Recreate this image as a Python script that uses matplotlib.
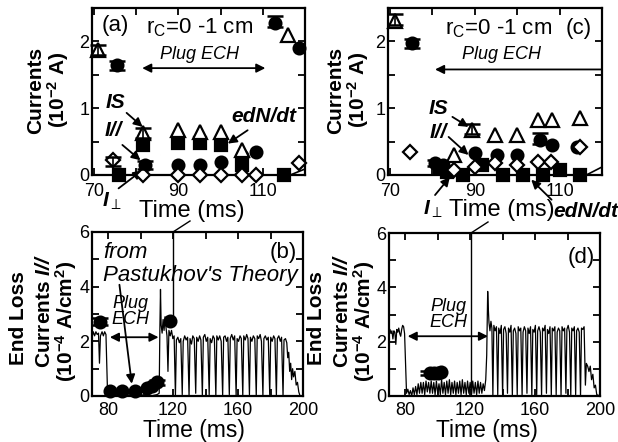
import matplotlib
matplotlib.use("Agg")
import matplotlib.pyplot as plt
from matplotlib.lines import Line2D
from matplotlib.ticker import FixedLocator, MultipleLocator

plt.rcParams["font.family"] = ["Liberation Sans", "DejaVu Sans"]
plt.rcParams["mathtext.fontset"] = "custom"
plt.rcParams["mathtext.rm"] = "Liberation Sans"
plt.rcParams["mathtext.it"] = "Liberation Sans:italic"
plt.rcParams["mathtext.bf"] = "Liberation Sans:bold"
plt.rcParams["mathtext.bfit"] = "Liberation Sans:italic:bold"

# ---- panel (a): currents, r_C = 0-1 cm ----
a_tri_t = [71, 81.5, 90, 95, 100, 105, 116]
a_tri_v = [1.87, 0.63, 0.67, 0.65, 0.65, 0.38, 2.09]
a_circ_t = [75.5, 82, 90, 95, 100, 105, 108.3, 113, 118.6]
a_circ_v = [1.64, 0.15, 0.15, 0.15, 0.2, 0.28, 0.35, 2.27, 1.9]
a_sq_t = [76, 81.5, 90, 95, 100, 105, 115]
a_sq_v = [0.0, 0.45, 0.48, 0.48, 0.45, 0.15, 0.0]
a_dia_t = [74.5, 81.5, 90, 95, 100, 105, 108.3, 118.5]
a_dia_v = [0.22, 0.0, 0.0, 0.0, 0.0, 0.0, 0.0, 0.18]
a_err_t = [71, 75.5, 81.5, 82, 74.5, 113]
a_err_v = [1.87, 1.64, 0.63, 0.15, 0.2, 2.3]
a_err = [0.07, 0.07, 0.07, 0.06, 0.07, 0.08]

# ---- panel (c) ----
c_tri_t = [71.2, 85.1, 89.4, 94.8, 99.9, 104.9, 108.1, 114.7]
c_tri_v = [2.31, 0.3, 0.67, 0.6, 0.6, 0.82, 0.82, 0.85]
c_circ_t = [75.2, 80.6, 82.5, 90.1, 95.3, 99.9, 105.4, 108.1, 114]
c_circ_v = [1.97, 0.18, 0.15, 0.33, 0.3, 0.3, 0.52, 0.45, 0.42]
c_sq_t = [81.7, 83.5, 87.1, 91.8, 96.7, 101.4, 106, 110, 114.7]
c_sq_v = [0.1, 0.05, 0.0, 0.15, 0.0, 0.0, 0.0, 0.07, 0.0]
c_dia_t = [74.7, 85, 90.1, 94.8, 99.9, 104.9, 108, 114.7]
c_dia_v = [0.34, 0.07, 0.12, 0.18, 0.15, 0.19, 0.19, 0.42]
c_err_t = [71.2, 75.2, 89.4, 105.4, 80.6]
c_err_v = [2.33, 1.97, 0.69, 0.55, 0.18]
c_err = [0.08, 0.07, 0.08, 0.08, 0.05]

# ---- panel (b): end loss current trace ----
b_time = [70.0, 70.8, 71.6, 72.4, 73.2, 74.0, 74.6, 75.2, 76.2, 77.0, 77.8, 78.6, 79.2, 79.6,
          82, 86, 90, 94, 98, 102, 106, 110, 111.4, 111.8, 112.2, 112.6, 113.2, 113.8,
          114.4, 115.0, 115.6, 116.2, 116.8, 117.4, 118.2, 119.0, 119.8, 120.6,
          121.4, 122.0, 122.9, 123.8, 124.7, 125.6, 126.2, 127.1, 128.0, 128.9,
          129.8, 130.4, 131.3, 132.1, 133.0, 133.9, 134.5, 135.4, 136.3, 137.1,
          138.0, 138.6, 139.5, 140.4, 141.3, 142.2, 142.8, 143.7, 144.6, 145.4,
          146.3, 146.9, 147.8, 148.7, 149.6, 150.5, 151.1, 152.0, 152.9, 153.7,
          154.6, 155.2, 156.1, 157.0, 157.9, 158.8, 159.4, 160.3, 161.2, 162.0,
          162.9, 163.5, 164.4, 165.3, 166.1, 167.0, 167.6, 168.5, 169.4, 170.3,
          171.2, 171.8, 172.7, 173.6, 174.4, 175.3, 175.9, 176.8, 177.7, 178.6,
          179.5, 180.1, 181.0, 181.9, 182.7, 183.6, 184.2, 185.1, 186.0, 186.8,
          187.7, 188.3, 189.2, 190.0, 190.6, 191.2, 191.8, 192.4, 193.0, 193.6,
          194.2, 195.0, 195.8, 196.6, 197.4, 198.2, 200.0]
b_curr = [2.15, 2.35, 2.2, 2.35, 2.25, 2.3, 1.2, 2.2, 2.35, 2.2, 2.35, 2.25, 1.0, 0.05,
          0.0, 0.05, 0.0, 0.05, 0.0, 0.05, 0.0, 0.05, 0.1, 2.4, 3.9, 2.6, 2.3, 2.8,
          2.4, 2.9, 2.5, 2.2, 0.9, 2.4, 2.2, 2.4, 2.1, 2.2,
          0.0, 2.05, 2.15, 1.95, 2.1, 0.05, 2.0, 2.2, 2.05, 2.15,
          0.0, 2.1, 1.9, 2.2, 2.1, 0.1, 2.15, 2.0, 2.2, 2.05,
          0.0, 2.15, 2.25, 2.0, 2.15, 0.05, 2.1, 1.95, 2.2, 2.1,
          0.0, 2.2, 2.05, 2.2, 2.0, 0.0, 2.15, 2.2, 2.0, 2.15,
          0.05, 2.1, 2.25, 2.05, 2.2, 0.0, 2.1, 2.0, 2.2, 2.1,
          0.0, 2.2, 2.05, 2.25, 2.1, 0.05, 2.15, 2.0, 2.2, 2.1,
          0.0, 2.2, 2.1, 2.25, 2.0, 0.0, 2.1, 2.2, 2.05, 2.15,
          0.05, 2.15, 2.0, 2.2, 2.1, 0.0, 2.1, 2.2, 2.0, 2.15,
          0.0, 2.05, 2.1, 1.95, 1.4, 1.6, 0.9, 1.2, 0.6, 1.0,
          0.7, 0.9, 0.4, 0.5, 0.15, 0.0, 0.0]
b_circ_t = [75, 81.1, 88.3, 96.5, 103.7, 106.8, 110, 118.1]
b_circ_v = [2.7, 0.18, 0.18, 0.2, 0.3, 0.35, 0.5, 2.74]

# ---- panel (d) ----
d_time = [70.0, 70.6, 71.2, 71.8, 72.4, 73.0, 73.6, 74.2, 74.8, 75.4, 76.0, 76.6, 77.2, 77.8,
          78.4, 79.0, 79.6, 80.2, 80.8, 81.6, 82.4, 83.2, 84.0, 84.8, 85.6, 86.4, 87.2,
          88.0, 88.8, 89.6, 90.4, 91.2, 92.0, 92.8, 93.6, 94.4, 95.2, 96.0, 96.8, 97.6,
          98.4, 99.2, 100.0, 100.8, 101.6, 102.4, 103.2, 104.0, 104.8, 105.6, 106.4,
          107.2, 108.0, 108.8, 109.6, 110.4, 111.2, 112.0, 112.8, 113.6, 114.4, 115.2,
          116.0, 116.8, 117.6, 118.4, 119.2, 120.0, 120.8, 121.6, 122.4, 123.2, 124.0,
          124.8, 125.6, 126.4, 127.2, 128.0, 128.8, 129.6, 130.2, 130.8, 131.2, 131.6,
          132.2, 132.8, 133.4, 134.0, 134.6, 135.4, 136.2, 137.0, 137.6, 138.4, 139.2,
          140.0, 140.6, 141.4, 142.2, 143.0, 143.6, 144.4, 145.2, 146.0, 146.6, 147.4,
          148.2, 149.0, 149.6, 150.4, 151.2, 152.0, 152.6, 153.4, 154.2, 155.0, 155.6,
          156.4, 157.2, 158.0, 158.6, 159.4, 160.2, 161.0, 161.6, 162.4, 163.2, 164.0,
          164.6, 165.4, 166.2, 167.0, 167.6, 168.4, 169.2, 170.0, 170.6, 171.4, 172.2,
          173.0, 173.6, 174.4, 175.2, 176.0, 176.6, 177.4, 178.2, 179.0, 179.6, 180.4,
          181.2, 182.0, 182.6, 183.4, 184.2, 185.0, 185.6, 186.4, 187.2, 188.0, 188.6,
          189.4, 190.2, 191.0, 191.6, 192.4, 193.2, 194.0, 194.8, 195.6, 196.4, 197.2,
          198.0, 200.0]
d_curr = [2.3, 2.45, 2.3, 2.4, 2.1, 2.4, 2.35, 1.9, 2.45, 2.35, 2.5, 2.3, 2.2, 2.45,
          2.6, 2.55, 2.3, 1.2, 0.1, 0.25, 0.05, 0.2, 0.0, 0.3, 0.05, 0.35, 0.05,
          0.45, 0.1, 0.5, 0.1, 0.5, 0.05, 0.55, 0.15, 0.5, 0.1, 0.55, 0.1, 0.5,
          0.05, 0.55, 0.1, 0.45, 0.05, 0.6, 0.1, 0.5, 0.05, 0.55, 0.1,
          0.6, 0.05, 0.5, 0.1, 0.55, 0.05, 0.5, 0.1, 0.55, 0.05, 0.6,
          0.1, 0.5, 0.05, 0.55, 0.1, 0.5, 0.05, 0.55, 0.1, 0.5, 0.05,
          0.55, 0.1, 0.5, 0.1, 0.45, 0.2, 0.6, 1.5, 3.85, 3.2, 2.7,
          2.4, 2.75, 2.5, 0.0, 2.6, 2.4, 2.55, 0.05, 2.5, 2.3, 2.6,
          0.0, 2.45, 2.55, 2.3, 0.1, 2.5, 2.35, 2.6, 0.0, 2.4, 2.5,
          2.3, 0.05, 2.55, 2.4, 2.5, 0.0, 2.35, 2.55, 2.4, 0.1, 2.5,
          2.3, 2.55, 0.0, 2.45, 2.35, 2.6, 0.05, 2.4, 2.55, 2.35, 0.0,
          2.5, 2.4, 2.6, 0.1, 2.45, 2.3, 2.55, 0.0, 2.5, 2.4, 2.55,
          0.05, 2.35, 2.5, 2.4, 0.0, 2.55, 2.4, 2.5, 0.1, 2.45, 2.6,
          2.35, 0.0, 2.5, 2.4, 2.55, 0.05, 2.4, 2.5, 2.35, 0.0, 2.5,
          2.45, 2.55, 0.4, 1.2, 1.1, 0.9, 1.1, 0.6, 0.8, 0.3, 0.4,
          0.05, 0.0]
d_circ_t = [95, 97.5, 100, 102]
d_circ_v = [0.85, 0.85, 0.86, 0.88]

# tick positions
top_xmajor = [70, 90, 110]
top_xminor = [80, 100]
bot_xmajor = [80, 120, 160, 200]
bot_xminor = [100, 140, 180]

W, H = 618, 442
fig = plt.figure(figsize=(W / 100, H / 100), dpi=100)


def px_axes(left, top, right, bottom):
    return fig.add_axes([left / W, 1 - bottom / H, (right - left) / W, (bottom - top) / H])


def style_axes(ax, xlim, ylim, xmaj, xmin, ymaj, ymin, xpad=6):
    ax.set_xlim(*xlim)
    ax.set_ylim(*ylim)
    ax.xaxis.set_major_locator(FixedLocator(xmaj))
    ax.xaxis.set_minor_locator(FixedLocator(xmin))
    ax.yaxis.set_major_locator(MultipleLocator(ymaj))
    ax.yaxis.set_minor_locator(MultipleLocator(ymin))
    ax.tick_params(which="both", direction="in", top=True, right=True,
                   length=5, width=1.3, labelsize=13)
    ax.tick_params(axis="x", pad=xpad)
    ax.tick_params(axis="y", pad=2)
    for s in ax.spines.values():
        s.set_linewidth(1.6)


def markers(ax, t, v, kind):
    styles = {
        "tri": dict(marker="^", mfc="white", ms=10, zorder=5),
        "circ": dict(marker="o", mfc="black", ms=8.5, zorder=4),
        "sq": dict(marker="s", mfc="black", ms=8, zorder=3),
        "dia": dict(marker="D", mfc="white", ms=7, zorder=6),
    }
    ax.plot(t, v, ls="none", mec="black", mew=1.6, clip_on=False, **styles[kind])


def errbars(ax, t, v, e):
    ax.errorbar(t, v, yerr=e, fmt="none", ecolor="black", elinewidth=1.2,
                capsize=6, capthick=1.8, clip_on=False, zorder=7)


def arrow(ax, tail, head, style="-|>"):
    ax.annotate("", xy=head, xytext=tail, annotation_clip=False,
                arrowprops=dict(arrowstyle=style, color="black", lw=1.3,
                                mutation_scale=13, shrinkA=0, shrinkB=0))


bi = dict(fontsize=15, ha="center", va="center", clip_on=False)

# ---------- (a) ----------
ax_a = px_axes(92, 8, 305, 175)
style_axes(ax_a, (69.5, 120), (0, 2.5), top_xmajor, top_xminor, 1, 0.5)
markers(ax_a, a_sq_t, a_sq_v, "sq")
markers(ax_a, a_circ_t, a_circ_v, "circ")
markers(ax_a, a_tri_t, a_tri_v, "tri")
markers(ax_a, a_dia_t, a_dia_v, "dia")
errbars(ax_a, a_err_t, a_err_v, a_err)
ax_a.plot([116.5, 120], [0, 0.09], color="black", lw=1.2, clip_on=False)
ax_a.text(75, 2.24, "(a)", fontsize=16, ha="center", va="center")
ax_a.text(95, 2.2, r"r$_\mathrm{C}$=0 -1 cm", fontsize=16, ha="center", va="center")
ax_a.text(95, 1.8, "Plug ECH", fontsize=13, style="italic", ha="center", va="center")
arrow(ax_a, (81.4, 1.6), (110.6, 1.6), "<|-|>")
ax_a.text(75, 1.09, "IS", fontweight="bold", style="italic", **bi)
arrow(ax_a, (77.7, 0.93), (81.5, 0.72))
ax_a.text(74.5, 0.67, "I//", fontweight="bold", style="italic", **bi)
arrow(ax_a, (76.7, 0.45), (81, 0.22))
ax_a.text(74.3, -0.4, r"$\mathbfit{I}_{\perp}$", **bi)
arrow(ax_a, (75.8, -0.2), (81.4, 0.07))
ax_a.text(110.2, 0.87, "edN/dt", fontweight="bold", style="italic", **bi)
arrow(ax_a, (106.4, 0.67), (101.7, 0.47))

# ---------- (c) ----------
ax_c = px_axes(388, 8, 602, 175)
style_axes(ax_c, (69.5, 120), (0, 2.5), top_xmajor, top_xminor, 1, 0.5)
markers(ax_c, c_sq_t, c_sq_v, "sq")
markers(ax_c, c_circ_t, c_circ_v, "circ")
markers(ax_c, c_tri_t, c_tri_v, "tri")
markers(ax_c, c_dia_t, c_dia_v, "dia")
errbars(ax_c, c_err_t, c_err_v, c_err)
ax_c.plot([116.3, 120], [0, 0.12], color="black", lw=1.2, clip_on=False)
ax_c.text(95.5, 2.19, r"r$_\mathrm{C}$=0 -1 cm", fontsize=16, ha="center", va="center")
ax_c.text(114.6, 2.19, "(c)", fontsize=16, ha="center", va="center")
ax_c.text(96.3, 1.8, "Plug ECH", fontsize=13, style="italic", ha="center", va="center")
arrow(ax_c, (120, 1.58), (80.6, 1.58))
ax_c.text(81.3, 1.0, "IS", fontweight="bold", style="italic", **bi)
arrow(ax_c, (84.7, 0.87), (88.5, 0.72))
ax_c.text(81.3, 0.64, "I//", fontweight="bold", style="italic", **bi)
arrow(ax_c, (83.8, 0.57), (88.5, 0.3))
ax_c.text(80.0, -0.52, r"$\mathbfit{I}_{\perp}$", **bi)
arrow(ax_c, (80.6, -0.3), (84.1, -0.03))
ax_c.text(116.2, -0.54, "edN/dt", fontweight="bold", style="italic", **bi)
arrow(ax_c, (108.1, -0.37), (103.3, -0.07))

# ---------- (b) ----------
ax_b = px_axes(92, 232, 303, 396)
style_axes(ax_b, (70, 200), (0, 6), bot_xmajor, bot_xminor, 2, 1, xpad=4)
ax_b.plot(b_time, b_curr, color="black", lw=0.9)
markers(ax_b, b_circ_t, b_circ_v, "circ")
errbars(ax_b, [75, 110], [2.72, 0.5], [0.12, 0.1])
ax_b.plot([120.2, 120.2], [6, 2.74], color="black", lw=1.0)
ax_b.text(90.4, 5.26, "from", fontsize=16, style="italic", ha="center", va="center")
ax_b.text(136.7, 4.42, "Pastukhov's Theory", fontsize=16, style="italic", ha="center", va="center")
ax_b.text(188, 5.26, "(b)", fontsize=16, ha="center", va="center")
arrow(ax_b, (86.9, 4.07), (94.5, 0.45))
ax_b.text(93.5, 3.1, "Plug\nECH", fontsize=13, style="italic", ha="center", va="center",
          linespacing=0.95)
arrow(ax_b, (81, 2.15), (111, 2.15), "<|-|>")

# ---------- (d) ----------
ax_d = px_axes(389, 233, 600, 396)
style_axes(ax_d, (70, 200), (0, 6), bot_xmajor, bot_xminor, 2, 1, xpad=4)
ax_d.plot(d_time, d_curr, color="black", lw=0.9)
markers(ax_d, d_circ_t, d_circ_v, "circ")
errbars(ax_d, [94], [0.85], [0.07])
ax_d.plot([120.6, 120.6], [6, 0.12], color="black", lw=1.0)
ax_d.text(188.5, 5.1, "(d)", fontsize=16, ha="center", va="center")
ax_d.text(106.4, 3.0, "Plug\nECH", fontsize=13, style="italic", ha="center", va="center",
          linespacing=0.95)
arrow(ax_d, (81.5, 2.2), (131, 2.2), "<|-|>")

# connector strokes above (b) and (d)
for x0, y0, x1, y1 in [(173, 232, 190, 221), (471, 233, 488, 222)]:
    fig.add_artist(Line2D([x0 / W, x1 / W], [1 - y0 / H, 1 - y1 / H], color="black", lw=1.0))

# ---------- axis labels ----------
lab = dict(fontsize=15, fontweight="bold", rotation=90, ha="center", va="center")
for x0, x1 in [(36, 58), (336, 358)]:
    fig.text(x0 / W, 1 - 90 / H, "Currents", **lab)
    fig.text(x1 / W, 1 - 90 / H, r"(10$^{\mathbf{-2}}$ A)", **lab)
for x0, x1, x2 in [(19, 44, 66), (316, 342, 364)]:
    fig.text(x0 / W, 1 - 318 / H, "End Loss", **lab)
    fig.text(x1 / W, 1 - 311 / H, r"Currents $\mathbfit{I//}$", **lab)
    fig.text(x2 / W, 1 - 321 / H, r"(10$^{\mathbf{-4}}$ A/cm$^{\mathbf{2}}$)", **lab)

fig.text(192 / W, 1 - 211 / H, "Time (ms)", fontsize=17, ha="center", va="center")
fig.text(502 / W, 1 - 210 / H, "Time (ms)", fontsize=17, ha="center", va="center")
fig.text(194 / W, 1 - 430 / H, "Time (ms)", fontsize=16.5, ha="center", va="center")
fig.text(487 / W, 1 - 430 / H, "Time (ms)", fontsize=16.5, ha="center", va="center")

fig.savefig("out.png", dpi=100)
